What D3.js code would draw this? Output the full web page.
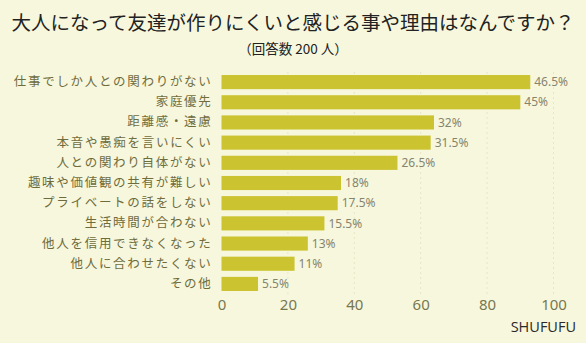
<!DOCTYPE html>
<html>
<head>
<meta charset="utf-8">
<script src="https://cdn.jsdelivr.net/npm/d3@7"></script>
<style>
  html, body { margin: 0; padding: 0; background: #f7f7dd; }
  svg { display: block; }
</style>
</head>
<body>
<svg id="chart" width="586" height="343"></svg>
<script>
// Survey: reasons it is hard to make friends as an adult (200 respondents)
const categories = [
  "仕事でしか人との関わりがない",
  "家庭優先",
  "距離感・遠慮",
  "本音や愚痴を言いにくい",
  "人との関わり自体がない",
  "趣味や価値観の共有が難しい",
  "プライベートの話をしない",
  "生活時間が合わない",
  "他人を信用できなくなった",
  "他人に合わせたくない",
  "その他"
];
const percents = [46.5, 45, 32, 31.5, 26.5, 18, 17.5, 15.5, 13, 11, 5.5];
const respondents = 200;
const xTicks = [0, 20, 40, 60, 80, 100];

// bars are drawn as respondent counts on the 0–100 axis
const counts = percents.map(p => p * respondents / 100);

const svg = d3.select("#chart");
const W = 586, H = 343;
const margin = { left: 221.5, right: 32.5, top: 72, bottom: 50 };

svg.append("rect").attr("width", W).attr("height", H).attr("fill", "#f7f7dd");

const x = d3.scaleLinear().domain([0, 100]).range([margin.left, W - margin.right]);
const y = d3.scaleBand().domain(categories).range([margin.top, 294]).paddingInner(0.3).paddingOuter(0.15);

// faint dotted grid
svg.append("g").selectAll("line").data(xTicks.filter(t => t > 0)).join("line")
  .attr("x1", d => x(d)).attr("x2", d => x(d))
  .attr("y1", margin.top).attr("y2", 294)
  .attr("stroke", "#e6e6c6").attr("stroke-width", 1)
  .attr("stroke-dasharray", "2,3");

// title
svg.append("text").attr("x", W / 2).attr("y", 30)
  .attr("text-anchor", "middle")
  .attr("font-family", "'Noto Sans CJK JP', sans-serif")
  .attr("font-size", 19.5).attr("fill", "#222")
  .text("大人になって友達が作りにくいと感じる事や理由はなんですか？");

svg.append("text").attr("x", W / 2).attr("y", 54)
  .attr("text-anchor", "middle")
  .attr("font-family", "'Noto Sans CJK JP', sans-serif")
  .attr("font-size", 13.5).attr("fill", "#222")
  .text("（回答数 200 人）");

// bars
svg.append("g").selectAll("rect").data(categories).join("rect")
  .attr("x", x(0))
  .attr("y", d => y(d))
  .attr("width", (d, i) => x(counts[i]) - x(0))
  .attr("height", y.bandwidth())
  .attr("fill", "#cbc32f");

// value labels
svg.append("g").selectAll("text").data(categories).join("text")
  .attr("x", (d, i) => x(counts[i]) + 4)
  .attr("y", d => y(d) + y.bandwidth() / 2)
  .attr("dy", "0.35em")
  .attr("font-family", "'Noto Sans', sans-serif")
  .attr("font-size", 12).attr("fill", "#85856f")
  .text((d, i) => percents[i] + "%");

// category axis
const yAxis = svg.append("g").attr("transform", `translate(${margin.left},0)`)
  .call(d3.axisLeft(y).tickSize(0).tickPadding(9));
yAxis.select(".domain").remove();
yAxis.selectAll("text")
  .attr("font-family", "'Noto Sans CJK JP', sans-serif")
  .attr("font-size", 12.5).attr("fill", "#6f6c3c")
  .attr("letter-spacing", "1.7px");

// value axis
const xAxis = svg.append("g").attr("transform", `translate(0,295)`)
  .call(d3.axisBottom(x).tickValues(xTicks).tickSize(0).tickPadding(4));
xAxis.select(".domain").remove();
xAxis.selectAll("text")
  .attr("font-family", "'Noto Sans', sans-serif")
  .attr("font-size", 15).attr("fill", "#777750");

// source
svg.append("text").attr("x", 576).attr("y", 332)
  .attr("text-anchor", "end")
  .attr("font-family", "'Open Sans', sans-serif")
  .attr("font-size", 14.5).attr("fill", "#2a2a2a")
  .text("SHUFUFU");
</script>
</body>
</html>
